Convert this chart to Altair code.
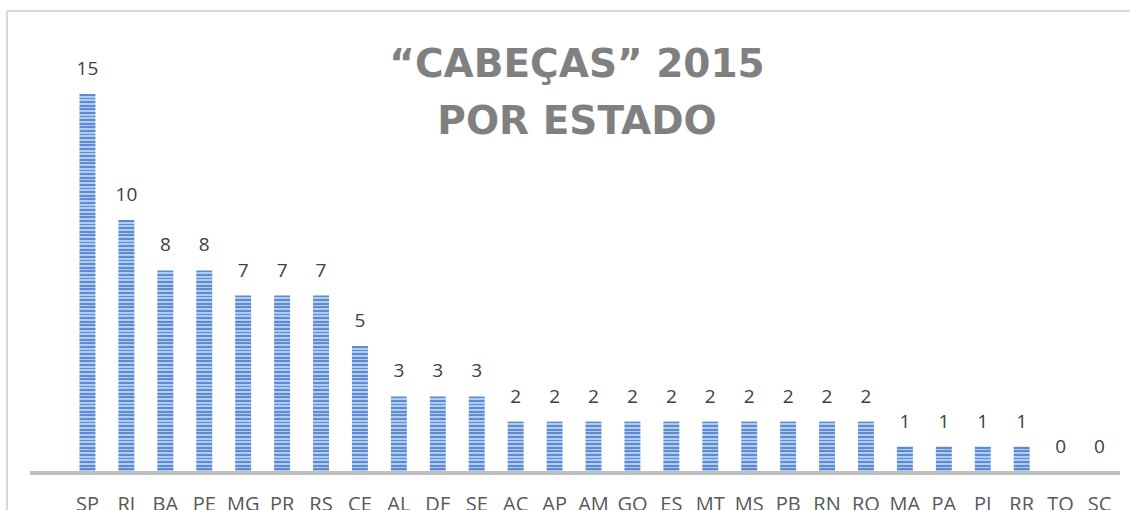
import altair as alt
import pandas as pd

states = ["SP", "RJ", "BA", "PE", "MG", "PR", "RS", "CE", "AL", "DF", "SE", "AC", "AP", "AM",
          "GO", "ES", "MT", "MS", "PB", "RN", "RO", "MA", "PA", "PI", "RR", "TO", "SC"]
values = [15, 10, 8, 8, 7, 7, 7, 5, 3, 3, 3, 2, 2, 2, 2, 2, 2, 2, 2, 2, 2, 1, 1, 1, 1, 0, 0]
title_lines = ["“CABEÇAS” 2015", "POR ESTADO"]

df = pd.DataFrame({"estado": states, "valor": values})

W, H = 1051, 378
PAD_L, PAD_T = 68, 94
PX_PER_UNIT = H / 15.0
DARK, LIGHT = "#5b8bd3", "#b2caec"

x_enc = alt.X("estado:N", sort=states,
              scale=alt.Scale(paddingInner=0.59, paddingOuter=0.295),
              axis=alt.Axis(title=None, ticks=False, domain=False, labelAngle=0,
                            labelFont="Open Sans", labelFontSize=20, labelColor="#595959",
                            labelPadding=22))
y_scale = alt.Scale(domain=[0, 15], nice=False, zero=True)
y_enc = alt.Y("valor:Q", scale=y_scale, axis=None)


def striped(v):
    h = v * PX_PER_UNIT
    n = max(1, round(h / 3.6))
    stops = []
    for k in range(n):
        a = k / n
        b = (k + 0.5) / n
        c = (k + 1) / n
        stops += [{"offset": a, "color": DARK},
                  {"offset": b, "color": DARK},
                  {"offset": b, "color": LIGHT},
                  {"offset": c, "color": LIGHT}]
    return {"gradient": "linear", "stops": stops, "x1": 0, "x2": 0, "y1": 0, "y2": 1}


base = alt.Chart(df)
layers = []
for v in sorted(set(values)):
    if v <= 0:
        continue
    layers.append(
        base.mark_bar(fill=striped(v))
        .encode(x=x_enc, y=y_enc)
        .transform_filter(alt.datum.valor == v)
    )

labels = base.mark_text(baseline="bottom", dy=-15, font="Open Sans", fontSize=19,
                        color="#404040").encode(
    x=alt.X("estado:N", sort=states), y=alt.Y("valor:Q", scale=y_scale, axis=None),
    text="valor:Q")

axis_line = base.mark_rule(color="#bfbfbf", strokeWidth=2.5).encode(
    y=alt.value(H + 1), x=alt.value(-38), x2=alt.value(W + 1))

border_top = base.mark_rule(color="#d9d9d9", strokeWidth=1.5).encode(
    x=alt.value(7 - PAD_L), x2=alt.value(1130 - PAD_L), y=alt.value(11 - PAD_T))
border_left = base.mark_rule(color="#d9d9d9", strokeWidth=1.5).encode(
    x=alt.value(7 - PAD_L), y=alt.value(11 - PAD_T), y2=alt.value(510 - PAD_T))

title_layers = []
for line, ypos in zip(title_lines, [77 - PAD_T, 134 - PAD_T]):
    title_layers.append(
        alt.Chart(pd.DataFrame({"linha": [line]}))
        .mark_text(font="DejaVu Sans", fontSize=39, fontWeight="bold", color="#808080",
                   align="center", baseline="alphabetic")
        .encode(text="linha:N", x=alt.value(577 - PAD_L), y=alt.value(ypos))
    )

chart = alt.layer(*layers, axis_line, labels, border_top, border_left, *title_layers).properties(
    width=W, height=H,
    autosize=alt.AutoSizeParams(type="none"),
    padding={"left": PAD_L, "top": PAD_T, "right": 1130 - PAD_L - W, "bottom": 510 - PAD_T - H},
).configure(
    background="white",
    view=alt.ViewConfig(stroke="transparent", strokeWidth=0),
)

chart.save("out.html", embed_options={"renderer": "svg", "actions": False})
